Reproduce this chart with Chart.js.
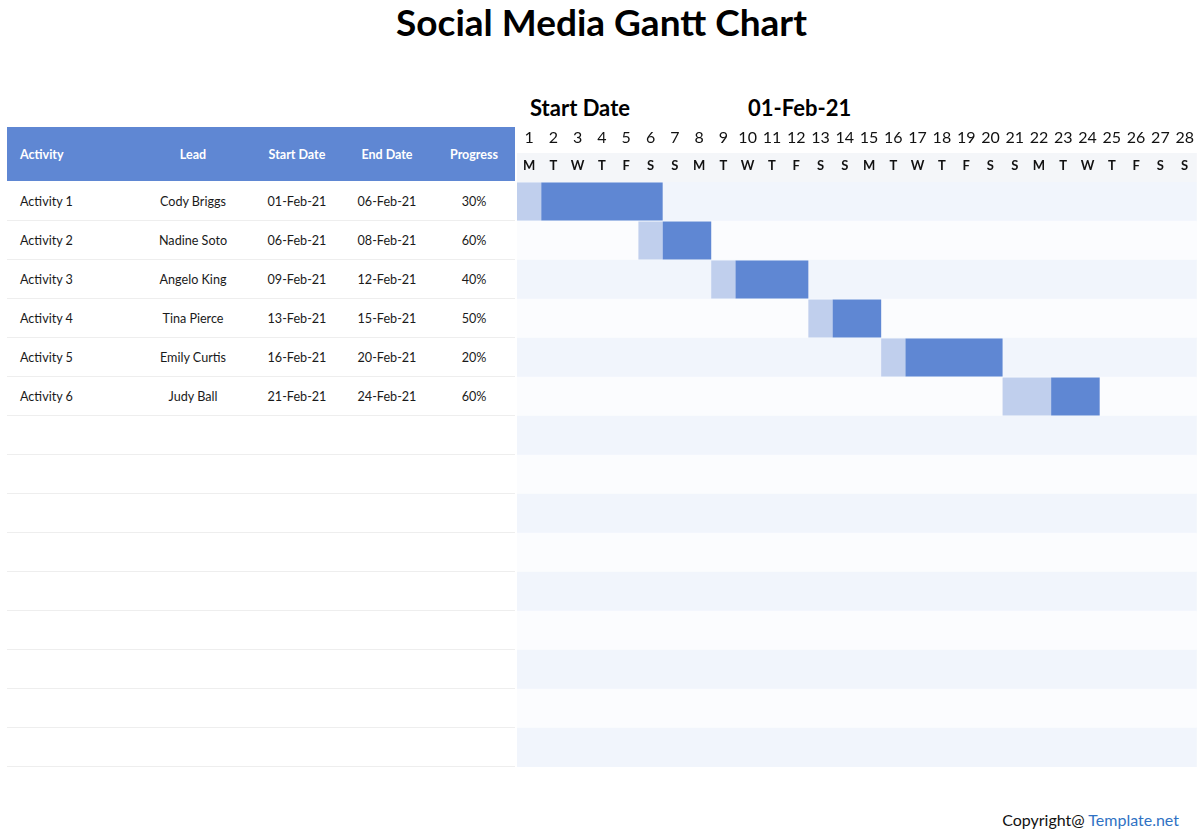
<!DOCTYPE html>
<html>
<head>
<meta charset="utf-8">
<script src="https://cdn.jsdelivr.net/npm/chart.js@4"></script>
<style>
  html, body { margin:0; padding:0; background:#ffffff; }
  body { width:1200px; height:835px; position:relative; overflow:hidden; font-family:'Lato','Open Sans',sans-serif; color:#1a1a1a; }
  #title { position:absolute; left:0; width:1203px; top:0; text-align:center; font-weight:700; font-size:37px; line-height:44px; color:#000; }
  .hdr2 { position:absolute; top:94px; font-weight:700; font-size:22px; line-height:28px; color:#000; }
  #table { position:absolute; left:7px; top:127px; width:508px; }
  #thead { position:relative; height:54px; margin-bottom:1px; background:#5f87d3; color:#fff; font-weight:700; font-size:12.5px; }
  .row { position:relative; height:39px; border-bottom:1px solid #eeeeee; box-sizing:border-box; font-size:12.6px; color:#1a1a1a; }
  .cell { position:absolute; top:50%; transform:translateY(-50%); white-space:nowrap; }
  .c { transform:translate(-50%,-50%); }
  #wrap { position:absolute; left:505px; top:125px; width:695px; height:645px; }
  #footer { position:absolute; right:21px; top:809px; font-size:16px; line-height:22px; color:#111; }
  #footer span { color:#2f72c4; }
</style>
</head>
<body>
<div id="title">Social Media Gantt Chart</div>
<div class="hdr2" style="left:530px">Start Date</div>
<div class="hdr2" style="left:748px">01-Feb-21</div>
<div id="table"></div>
<div id="wrap"><canvas id="c"></canvas></div>
<div id="footer">Copyright@ <span>Template.net</span></div>
<script>
// ---- data ----
const headers = ['Activity', 'Lead', 'Start Date', 'End Date', 'Progress'];
const activities = ['Activity 1', 'Activity 2', 'Activity 3', 'Activity 4', 'Activity 5', 'Activity 6'];
const leads = ['Cody Briggs', 'Nadine Soto', 'Angelo King', 'Tina Pierce', 'Emily Curtis', 'Judy Ball'];
const startDates = ['01-Feb-21', '06-Feb-21', '09-Feb-21', '13-Feb-21', '16-Feb-21', '21-Feb-21'];
const endDates = ['06-Feb-21', '08-Feb-21', '12-Feb-21', '15-Feb-21', '20-Feb-21', '24-Feb-21'];
const progress = ['30%', '60%', '40%', '50%', '20%', '60%'];
const dayNumbers = ['1','2','3','4','5','6','7','8','9','10','11','12','13','14','15','16','17','18','19','20','21','22','23','24','25','26','27','28'];
const weekdays = ['M','T','W','T','F','S','S','M','T','W','T','F','S','S','M','T','W','T','F','S','S','M','T','W','T','F','S','S'];
const lightSegments = [[0,1],[5,6],[8,9],[12,13],[15,16],[20,22]];
const darkSegments = [[1,6],[6,8],[9,12],[13,15],[16,20],[22,24]];
const totalRows = 15;

// ---- left table ----
const colX = [13, 186, 290, 380, 467]; // first is left edge, others centers
const table = document.getElementById('table');
const thead = document.createElement('div');
thead.id = 'thead';
headers.forEach((h, i) => {
  const s = document.createElement('span');
  s.className = 'cell' + (i ? ' c' : '');
  s.style.left = colX[i] + 'px';
  s.textContent = h;
  thead.appendChild(s);
});
table.appendChild(thead);
for (let r = 0; r < totalRows; r++) {
  const row = document.createElement('div');
  row.className = 'row';
  if (r < activities.length) {
    const vals = [activities[r], leads[r], startDates[r], endDates[r], progress[r]];
    vals.forEach((v, i) => {
      const s = document.createElement('span');
      s.className = 'cell' + (i ? ' c' : '');
      s.style.left = colX[i] + 'px';
      s.textContent = v;
      row.appendChild(s);
    });
  }
  table.appendChild(row);
}

// ---- gantt chart ----
const rowLabels = [];
for (let r = 0; r < totalRows; r++) rowLabels.push(r < activities.length ? activities[r] : 'row' + (r + 1));

const bandPlugin = {
  id: 'band',
  beforeDraw(chart) {
    const s = chart.scales.xw, a = chart.chartArea, ctx = chart.ctx;
    ctx.save();
    ctx.fillStyle = '#f4f6f9';
    ctx.fillRect(a.left, s.top, a.right - a.left, s.bottom - s.top);
    ctx.restore();
  }
};

const topAxis = (labels, weight, height, pad, font) => ({
  type: 'linear', position: 'top', min: 0, max: dayNumbers.length, weight: weight,
  grid: { display: false, drawTicks: false }, border: { display: false },
  afterBuildTicks: s => { s.ticks = labels.map((d, i) => ({ value: i + 0.5 })); },
  afterFit: s => { s.height = height; },
  ticks: { autoSkip: false, maxRotation: 0, minRotation: 0, padding: pad, color: '#111', font: font,
           callback: (v, i) => labels[i] }
});

new Chart(document.getElementById('c'), {
  type: 'bar',
  data: {
    labels: rowLabels,
    datasets: [
      { label: 'rows', data: rowLabels.map(() => [0, dayNumbers.length]),
        backgroundColor: rowLabels.map((_, i) => i % 2 === 0 ? '#f1f5fc' : '#fbfcfe'),
        categoryPercentage: 1, barPercentage: 1, grouped: false, order: 3 },
      { label: 'light', data: lightSegments, backgroundColor: '#c0cfed',
        categoryPercentage: 0.975, barPercentage: 1, grouped: false, order: 2 },
      { label: 'dark', data: darkSegments, backgroundColor: '#5f87d3',
        categoryPercentage: 0.975, barPercentage: 1, grouped: false, order: 1 }
    ]
  },
  options: {
    indexAxis: 'y', responsive: true, maintainAspectRatio: false, animation: false,
    layout: { padding: { left: 12, right: 3, top: 0, bottom: 3 } },
    plugins: { legend: { display: false }, tooltip: { enabled: false }, title: { display: false } },
    scales: {
      x: { type: 'linear', min: 0, max: dayNumbers.length, display: false },
      y: { type: 'category', display: false },
      xd: topAxis(dayNumbers, 1, 28, 6, { family: 'Lato', size: 16 }),
      xw: topAxis(weekdays, 0, 29, 8, { family: 'Lato', size: 13, weight: 'bold' })
    }
  },
  plugins: [bandPlugin]
});
</script>
</body>
</html>
